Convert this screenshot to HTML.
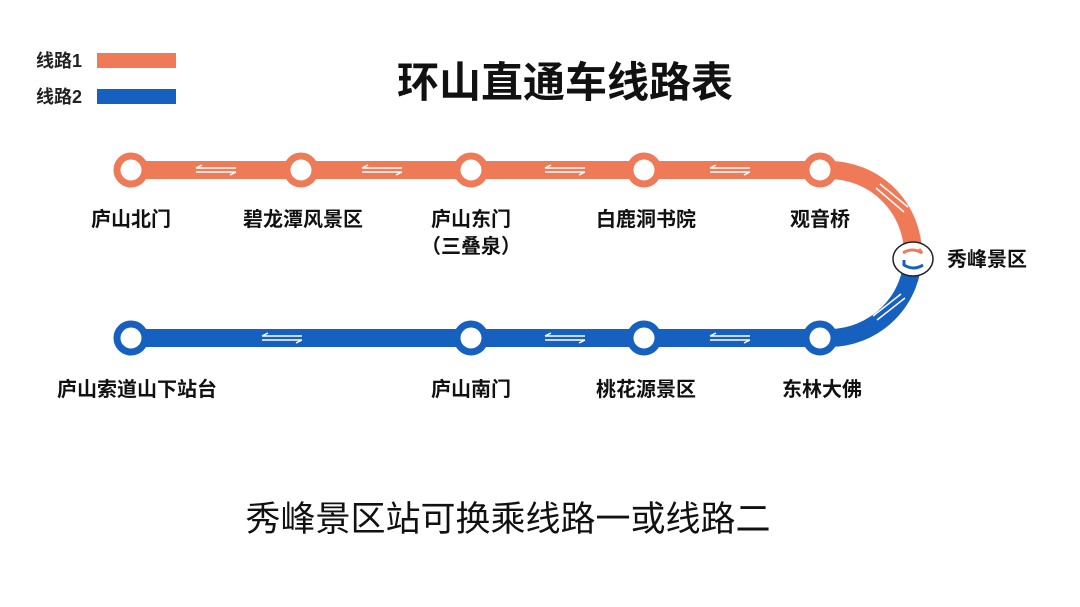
<!DOCTYPE html>
<html><head><meta charset="utf-8"><style>
body{margin:0;background:#fff;}
svg{display:block;}
text{font-family:"Liberation Sans","Noto Sans CJK SC",sans-serif;}
</style></head><body>
<svg width="1080" height="607" viewBox="0 0 1080 607">
<text x="36" y="67" font-size="18" font-weight="bold" fill="#222">线路1</text>
<rect x="97" y="53" width="79" height="15" fill="#ee7a58"/>
<text x="36" y="103" font-size="18" font-weight="bold" fill="#222">线路2</text>
<rect x="97" y="89" width="79" height="15" fill="#1660c0"/>
<text x="565" y="97" font-size="42" font-weight="bold" text-anchor="middle" fill="#111">环山直通车线路表</text>

<path d="M131 170 H829 A84 84 0 0 1 913 254" fill="none" stroke="#ee7a58" stroke-width="18"/>
<path d="M913 254 A84 84 0 0 1 829 338 H131" fill="none" stroke="#1660c0" stroke-width="18"/>

<g fill="#fff" stroke-width="7">
<circle cx="131" cy="170" r="14" stroke="#ee7a58"/>
<circle cx="301" cy="170" r="14" stroke="#ee7a58"/>
<circle cx="471" cy="170" r="14" stroke="#ee7a58"/>
<circle cx="644" cy="170" r="14" stroke="#ee7a58"/>
<circle cx="820" cy="170" r="14" stroke="#ee7a58"/>
<circle cx="131" cy="338" r="14" stroke="#1660c0"/>
<circle cx="471" cy="338" r="14" stroke="#1660c0"/>
<circle cx="644" cy="338" r="14" stroke="#1660c0"/>
<circle cx="820" cy="338" r="14" stroke="#1660c0"/>
</g>
<g stroke="#fff" stroke-width="1.5" fill="none">
<path d="M196 168 H236 M196 168 l6 -3 M196 172 H236 M236 172 l-6 3"/>
<path d="M362 168 H402 M362 168 l6 -3 M362 172 H402 M402 172 l-6 3"/>
<path d="M545 168 H585 M545 168 l6 -3 M545 172 H585 M585 172 l-6 3"/>
<path d="M710 168 H750 M710 168 l6 -3 M710 172 H750 M750 172 l-6 3"/>
<path d="M262 336 H302 M262 336 l6 -3 M262 340 H302 M302 340 l-6 3"/>
<path d="M545 336 H585 M545 336 l6 -3 M545 340 H585 M585 340 l-6 3"/>
<path d="M710 336 H750 M710 336 l6 -3 M710 340 H750 M750 340 l-6 3"/>
<path d="M880 184 L908 207 M876 188 L904 212"/>
<path d="M877 320 L905 298 M873 316 L901 294"/>
</g>
<ellipse cx="913" cy="259" rx="20" ry="17" fill="#fff" stroke="#222" stroke-width="1.5"/>
<path d="M903 253 Q912 247 922 253 l-3 -4" fill="none" stroke="#ee7a58" stroke-width="3"/>
<path d="M923 265 Q914 271 904 265 l0 -5" fill="none" stroke="#1660c0" stroke-width="3"/>
<text x="947" y="266" font-size="20" font-weight="bold" fill="#111">秀峰景区</text>

<g font-size="20" font-weight="bold" fill="#111" text-anchor="middle">
<text x="131" y="226">庐山北门</text>
<text x="303" y="226">碧龙潭风景区</text>
<text x="471" y="226">庐山东门</text>
<text x="471" y="253">（三叠泉）</text>
<text x="646" y="226">白鹿洞书院</text>
<text x="820" y="226">观音桥</text>
<text x="137" y="396">庐山索道山下站台</text>
<text x="471" y="396">庐山南门</text>
<text x="646" y="396">桃花源景区</text>
<text x="822" y="396">东林大佛</text>
</g>
<text x="508" y="531" font-size="35" text-anchor="middle" fill="#111">秀峰景区站可换乘线路一或线路二</text>
</svg>
</body></html>
